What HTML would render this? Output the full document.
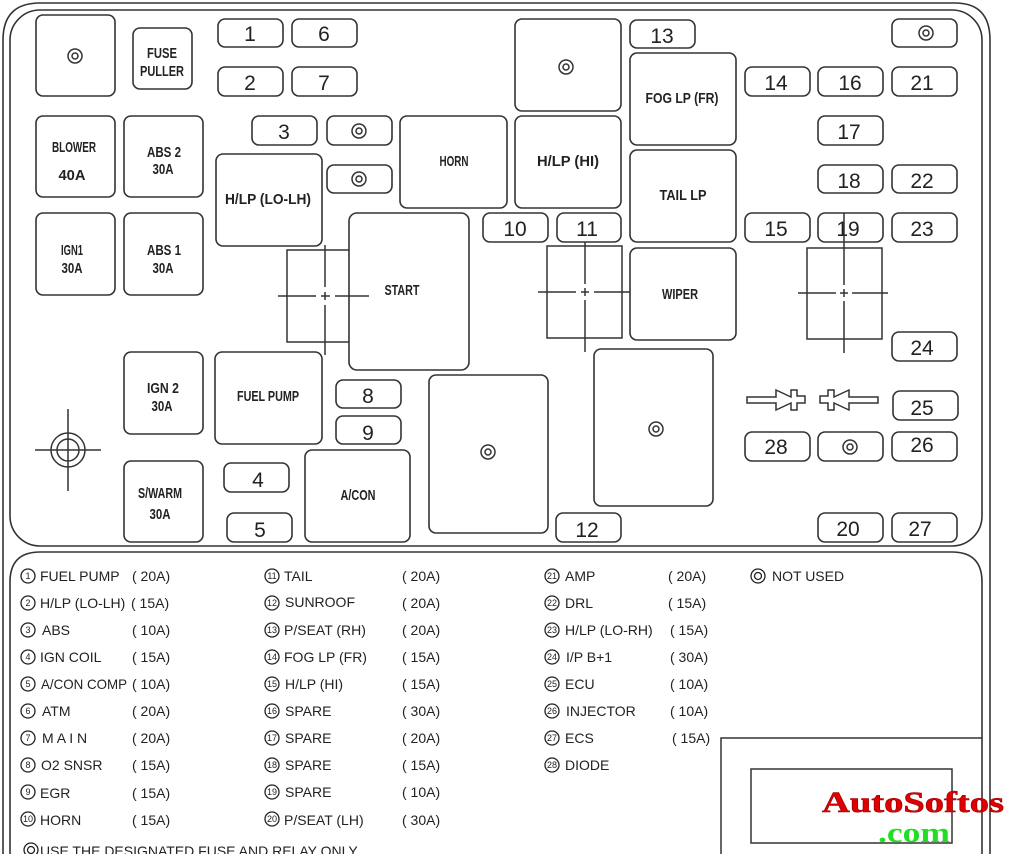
<!DOCTYPE html>
<html><head><meta charset="utf-8"><style>
html,body{margin:0;padding:0;background:#fff}
svg{display:block}
text{font-family:"Liberation Sans",sans-serif;fill:#222}
.b{fill:none;stroke:#333;stroke-width:1.6}
.n{font-size:21px;text-anchor:middle}
.l{font-size:15px;text-anchor:middle;font-weight:bold}
.g{font-size:14px}
.c{font-size:9px;text-anchor:middle}
</style></head><body>
<svg width="1024" height="854" viewBox="0 0 1024 854" xmlns="http://www.w3.org/2000/svg">
<path class="b" d="M3,854 V40 Q3,3 40,3 H955 Q990,3 990,40 V854"/>
<rect class="b" x="10" y="10" width="972" height="536" rx="30"/>
<path class="b" d="M10,854 V582 Q10,552 40,552 H952 Q982,552 982,582 V854"/>

<g>
<rect class="b" x="218" y="19" width="65" height="28" rx="7"/><text class="n" x="250" y="41">1</text>
<rect class="b" x="292" y="19" width="65" height="28" rx="7"/><text class="n" x="324" y="41">6</text>
<rect class="b" x="218" y="67" width="65" height="29" rx="7"/><text class="n" x="250" y="90">2</text>
<rect class="b" x="292" y="67" width="65" height="29" rx="7"/><text class="n" x="324" y="90">7</text>
<rect class="b" x="252" y="116" width="65" height="29" rx="7"/><text class="n" x="284" y="139">3</text>
<rect class="b" x="327" y="116" width="65" height="29" rx="7"/>
<rect class="b" x="327" y="165" width="65" height="28" rx="7"/>
<rect class="b" x="483" y="213" width="65" height="29" rx="7"/><text class="n" x="515" y="236">10</text>
<rect class="b" x="557" y="213" width="64" height="29" rx="7"/><text class="n" x="587" y="236">11</text>
<rect class="b" x="630" y="20" width="65" height="28" rx="7"/><text class="n" x="662" y="43">13</text>
<rect class="b" x="892" y="19" width="65" height="28" rx="7"/>
<rect class="b" x="745" y="67" width="65" height="29" rx="7"/><text class="n" x="776" y="90">14</text>
<rect class="b" x="818" y="67" width="65" height="29" rx="7"/><text class="n" x="850" y="90">16</text>
<rect class="b" x="892" y="67" width="65" height="29" rx="7"/><text class="n" x="922" y="90">21</text>
<rect class="b" x="818" y="116" width="65" height="29" rx="7"/><text class="n" x="849" y="139">17</text>
<rect class="b" x="818" y="165" width="65" height="28" rx="7"/><text class="n" x="849" y="188">18</text>
<rect class="b" x="892" y="165" width="65" height="28" rx="7"/><text class="n" x="922" y="188">22</text>
<rect class="b" x="745" y="213" width="65" height="29" rx="7"/><text class="n" x="776" y="236">15</text>
<rect class="b" x="818" y="213" width="65" height="29" rx="7"/><text class="n" x="848" y="236">19</text>
<rect class="b" x="892" y="213" width="65" height="29" rx="7"/><text class="n" x="922" y="236">23</text>
<rect class="b" x="892" y="332" width="65" height="29" rx="7"/><text class="n" x="922" y="355">24</text>
<rect class="b" x="893" y="391" width="65" height="29" rx="7"/><text class="n" x="922" y="415">25</text>
<rect class="b" x="745" y="432" width="65" height="29" rx="7"/><text class="n" x="776" y="454">28</text>
<rect class="b" x="818" y="432" width="65" height="29" rx="7"/>
<rect class="b" x="892" y="432" width="65" height="29" rx="7"/><text class="n" x="922" y="452">26</text>
<rect class="b" x="818" y="513" width="65" height="29" rx="7"/><text class="n" x="848" y="536">20</text>
<rect class="b" x="892" y="513" width="65" height="29" rx="7"/><text class="n" x="920" y="536">27</text>
<rect class="b" x="336" y="380" width="65" height="28" rx="7"/><text class="n" x="368" y="403">8</text>
<rect class="b" x="336" y="416" width="65" height="28" rx="7"/><text class="n" x="368" y="440">9</text>
<rect class="b" x="224" y="463" width="65" height="29" rx="7"/><text class="n" x="258" y="487">4</text>
<rect class="b" x="227" y="513" width="65" height="29" rx="7"/><text class="n" x="260" y="537">5</text>
<rect class="b" x="556" y="513" width="65" height="29" rx="7"/><text class="n" x="587" y="537">12</text>
</g>

<rect class="b" x="36" y="15" width="79" height="81" rx="7"/>
<rect class="b" x="133" y="28" width="59" height="61" rx="7"/><text class="l" x="162" y="58" textLength="30" lengthAdjust="spacingAndGlyphs">FUSE</text><text class="l" x="162" y="76" textLength="44" lengthAdjust="spacingAndGlyphs">PULLER</text>
<rect class="b" x="36" y="116" width="79" height="81" rx="7"/><text class="l" x="74" y="152" textLength="44" lengthAdjust="spacingAndGlyphs">BLOWER</text><text class="l" x="72" y="180" textLength="27" lengthAdjust="spacingAndGlyphs">40A</text>
<rect class="b" x="124" y="116" width="79" height="81" rx="7"/><text class="l" x="164" y="157" textLength="34" lengthAdjust="spacingAndGlyphs">ABS 2</text><text class="l" x="163" y="174" textLength="21" lengthAdjust="spacingAndGlyphs">30A</text>
<rect class="b" x="36" y="213" width="79" height="82" rx="7"/><text class="l" x="72" y="255" textLength="22" lengthAdjust="spacingAndGlyphs">IGN1</text><text class="l" x="72" y="273" textLength="21" lengthAdjust="spacingAndGlyphs">30A</text>
<rect class="b" x="124" y="213" width="79" height="82" rx="7"/><text class="l" x="164" y="255" textLength="34" lengthAdjust="spacingAndGlyphs">ABS 1</text><text class="l" x="163" y="273" textLength="21" lengthAdjust="spacingAndGlyphs">30A</text>
<rect class="b" x="216" y="154" width="106" height="92" rx="7"/><text class="l" x="268" y="204" textLength="86" lengthAdjust="spacingAndGlyphs">H/LP (LO-LH)</text>
<rect class="b" x="400" y="116" width="107" height="92" rx="7"/><text class="l" x="454" y="166" textLength="29" lengthAdjust="spacingAndGlyphs">HORN</text>
<rect class="b" x="515" y="116" width="106" height="92" rx="7"/><text class="l" x="568" y="166" textLength="62" lengthAdjust="spacingAndGlyphs">H/LP (HI)</text>
<rect class="b" x="515" y="19" width="106" height="92" rx="7"/>
<rect class="b" x="630" y="53" width="106" height="92" rx="7"/><text class="l" x="682" y="103" textLength="73" lengthAdjust="spacingAndGlyphs">FOG LP (FR)</text>
<rect class="b" x="630" y="150" width="106" height="92" rx="7"/><text class="l" x="683" y="200" textLength="47" lengthAdjust="spacingAndGlyphs">TAIL LP</text>
<rect class="b" x="630" y="248" width="106" height="92" rx="7"/><text class="l" x="680" y="299" textLength="36" lengthAdjust="spacingAndGlyphs">WIPER</text>
<rect class="b" x="349" y="213" width="120" height="157" rx="8"/><text class="l" x="402" y="295" textLength="35" lengthAdjust="spacingAndGlyphs">START</text>
<rect class="b" x="124" y="352" width="79" height="82" rx="7"/><text class="l" x="163" y="393" textLength="32" lengthAdjust="spacingAndGlyphs">IGN 2</text><text class="l" x="162" y="411" textLength="21" lengthAdjust="spacingAndGlyphs">30A</text>
<rect class="b" x="215" y="352" width="107" height="92" rx="7"/><text class="l" x="268" y="401" textLength="62" lengthAdjust="spacingAndGlyphs">FUEL PUMP</text>
<rect class="b" x="124" y="461" width="79" height="81" rx="7"/><text class="l" x="160" y="498" textLength="44" lengthAdjust="spacingAndGlyphs">S/WARM</text><text class="l" x="160" y="519" textLength="21" lengthAdjust="spacingAndGlyphs">30A</text>
<rect class="b" x="305" y="450" width="105" height="92" rx="7"/><text class="l" x="358" y="500" textLength="35" lengthAdjust="spacingAndGlyphs">A/CON</text>
<rect class="b" x="429" y="375" width="119" height="158" rx="7"/>
<rect class="b" x="594" y="349" width="119" height="157" rx="7"/>

<g fill="none" stroke="#333" stroke-width="1.5">
<circle cx="75" cy="56" r="7"/><circle cx="75" cy="56" r="3"/>
<circle cx="359" cy="131" r="7"/><circle cx="359" cy="131" r="3"/>
<circle cx="359" cy="179" r="7"/><circle cx="359" cy="179" r="3"/>
<circle cx="566" cy="67" r="7"/><circle cx="566" cy="67" r="3"/>
<circle cx="926" cy="33" r="7"/><circle cx="926" cy="33" r="3"/>
<circle cx="850" cy="447" r="7"/><circle cx="850" cy="447" r="3"/>
<circle cx="488" cy="452" r="7"/><circle cx="488" cy="452" r="3"/>
<circle cx="656" cy="429" r="7"/><circle cx="656" cy="429" r="3"/>
<circle cx="68" cy="450" r="17"/><circle cx="68" cy="450" r="11"/>
<path d="M35,450 H101 M68,409 V491"/>
<path d="M349,250 H287 V342 H349"/>
<path d="M278,296 H316 M321,296 H330 M335,296 H369 M325,245 V287 M325,292 V300 M325,305 V355"/>
<rect x="547" y="246" width="75" height="92"/>
<path d="M538,292 H576 M581,292 H589 M594,292 H630 M585,242 V284 M585,288 V296 M585,300 V352"/>
<rect x="807" y="248" width="75" height="91"/>
<path d="M798,293 H836 M840,293 H848 M852,293 H888 M844,213 V285 M844,289 V297 M844,301 V353"/>
<path d="M747,397 H776 V390 L791,397 V390 H797 V396 H805 V403 H797 V410 H791 V403 L776,410 V403 H747 Z"/>
<path d="M878,397 H849 V390 L834,397 V390 H828 V396 H820 V403 H828 V410 H834 V403 L849,410 V403 H878 Z"/>
<path d="M721,854 V738 H982"/>
<rect x="751" y="769" width="201" height="74"/>
</g>

<g fill="none" stroke="#222" stroke-width="1.3">
<circle cx="28" cy="576" r="7"/><circle cx="28" cy="603" r="7"/><circle cx="28" cy="630" r="7"/><circle cx="28" cy="657" r="7"/><circle cx="28" cy="684" r="7"/><circle cx="28" cy="711" r="7"/><circle cx="28" cy="738" r="7"/><circle cx="28" cy="765" r="7"/><circle cx="28" cy="792" r="7"/><circle cx="28" cy="819" r="7"/>
<circle cx="272" cy="576" r="7"/><circle cx="272" cy="603" r="7"/><circle cx="272" cy="630" r="7"/><circle cx="272" cy="657" r="7"/><circle cx="272" cy="684" r="7"/><circle cx="272" cy="711" r="7"/><circle cx="272" cy="738" r="7"/><circle cx="272" cy="765" r="7"/><circle cx="272" cy="792" r="7"/><circle cx="272" cy="819" r="7"/>
<circle cx="552" cy="576" r="7"/><circle cx="552" cy="603" r="7"/><circle cx="552" cy="630" r="7"/><circle cx="552" cy="657" r="7"/><circle cx="552" cy="684" r="7"/><circle cx="552" cy="711" r="7"/><circle cx="552" cy="738" r="7"/><circle cx="552" cy="765" r="7"/>
<circle cx="758" cy="576" r="7"/><circle cx="758" cy="576" r="3.5"/>
<circle cx="31" cy="850" r="7"/><circle cx="31" cy="850" r="3.5"/>
</g>
<g>
<text class="c" x="28" y="579">1</text><text class="c" x="28" y="606">2</text><text class="c" x="28" y="633">3</text><text class="c" x="28" y="660">4</text><text class="c" x="28" y="687">5</text><text class="c" x="28" y="714">6</text><text class="c" x="28" y="741">7</text><text class="c" x="28" y="768">8</text><text class="c" x="28" y="795">9</text><text class="c" x="28" y="822">10</text>
<text class="c" x="272" y="579">11</text><text class="c" x="272" y="606">12</text><text class="c" x="272" y="633">13</text><text class="c" x="272" y="660">14</text><text class="c" x="272" y="687">15</text><text class="c" x="272" y="714">16</text><text class="c" x="272" y="741">17</text><text class="c" x="272" y="768">18</text><text class="c" x="272" y="795">19</text><text class="c" x="272" y="822">20</text>
<text class="c" x="552" y="579">21</text><text class="c" x="552" y="606">22</text><text class="c" x="552" y="633">23</text><text class="c" x="552" y="660">24</text><text class="c" x="552" y="687">25</text><text class="c" x="552" y="714">26</text><text class="c" x="552" y="741">27</text><text class="c" x="552" y="768">28</text>
</g>
<g>
<text class="g" x="40" y="581">FUEL PUMP</text><text class="g" x="132" y="581">( 20A)</text>
<text class="g" x="40" y="608">H/LP (LO-LH)</text><text class="g" x="131" y="608">( 15A)</text>
<text class="g" x="42" y="635">ABS</text><text class="g" x="132" y="635">( 10A)</text>
<text class="g" x="40" y="662">IGN COIL</text><text class="g" x="132" y="662">( 15A)</text>
<text class="g" x="41" y="689" textLength="86" lengthAdjust="spacingAndGlyphs">A/CON COMP</text><text class="g" x="132" y="689">( 10A)</text>
<text class="g" x="42" y="716">ATM</text><text class="g" x="132" y="716">( 20A)</text>
<text class="g" x="42" y="743">M A I N</text><text class="g" x="132" y="743">( 20A)</text>
<text class="g" x="41" y="770">O2  SNSR</text><text class="g" x="132" y="770">( 15A)</text>
<text class="g" x="40" y="798">EGR</text><text class="g" x="132" y="798">( 15A)</text>
<text class="g" x="40" y="825">HORN</text><text class="g" x="132" y="825">( 15A)</text>
<text class="g" x="284" y="581">TAIL</text><text class="g" x="402" y="581">( 20A)</text>
<text class="g" x="285" y="607">SUNROOF</text><text class="g" x="402" y="608">( 20A)</text>
<text class="g" x="284" y="635">P/SEAT (RH)</text><text class="g" x="402" y="635">( 20A)</text>
<text class="g" x="284" y="662">FOG LP (FR)</text><text class="g" x="402" y="662">( 15A)</text>
<text class="g" x="285" y="689">H/LP (HI)</text><text class="g" x="402" y="689">( 15A)</text>
<text class="g" x="285" y="716">SPARE</text><text class="g" x="402" y="716">( 30A)</text>
<text class="g" x="285" y="743">SPARE</text><text class="g" x="402" y="743">( 20A)</text>
<text class="g" x="285" y="770">SPARE</text><text class="g" x="402" y="770">( 15A)</text>
<text class="g" x="285" y="797">SPARE</text><text class="g" x="402" y="797">( 10A)</text>
<text class="g" x="284" y="825">P/SEAT (LH)</text><text class="g" x="402" y="825">( 30A)</text>
<text class="g" x="565" y="581">AMP</text><text class="g" x="668" y="581">( 20A)</text>
<text class="g" x="565" y="608">DRL</text><text class="g" x="668" y="608">( 15A)</text>
<text class="g" x="565" y="635">H/LP (LO-RH)</text><text class="g" x="670" y="635">( 15A)</text>
<text class="g" x="566" y="662">I/P B+1</text><text class="g" x="670" y="662">( 30A)</text>
<text class="g" x="565" y="689">ECU</text><text class="g" x="670" y="689">( 10A)</text>
<text class="g" x="566" y="716">INJECTOR</text><text class="g" x="670" y="716">( 10A)</text>
<text class="g" x="565" y="743">ECS</text><text class="g" x="672" y="743">( 15A)</text>
<text class="g" x="565" y="770">DIODE</text>
<text class="g" x="772" y="581">NOT USED</text>
<text class="g" x="40" y="856" fill="#555">USE THE DESIGNATED FUSE AND RELAY ONLY</text>
</g>

<text x="822" y="812" textLength="182" lengthAdjust="spacingAndGlyphs" style="font-family:'Liberation Serif',serif;font-weight:bold;font-size:30px;fill:#e00000;stroke:#900;stroke-width:0.6">AutoSoftos</text>
<text x="878" y="842" textLength="72" lengthAdjust="spacingAndGlyphs" style="font-family:'Liberation Serif',serif;font-weight:bold;font-size:28px;fill:#22dd22">.com</text>
</svg>
</body></html>
